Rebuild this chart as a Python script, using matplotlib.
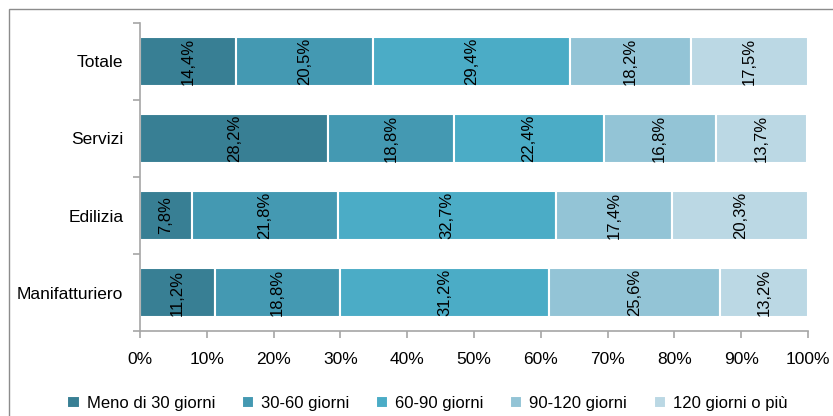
import matplotlib
matplotlib.use("Agg")
import matplotlib.pyplot as plt
import numpy as np
from matplotlib.patches import Rectangle

# share of companies by payment delay, per sector
sectors = ["Totale", "Servizi", "Edilizia", "Manifatturiero"]
classes = ["Meno di 30 giorni", "30-60 giorni", "60-90 giorni",
           "90-120 giorni", "120 giorni o più"]
meno_30 = [14.4, 28.2, 7.8, 11.2]
da_30_60 = [20.5, 18.8, 21.8, 18.8]
da_60_90 = [29.4, 22.4, 32.7, 31.2]
da_90_120 = [18.2, 16.8, 17.4, 25.6]
oltre_120 = [17.5, 13.7, 20.3, 13.2]
xticks = [0, 10, 20, 30, 40, 50, 60, 70, 80, 90, 100]

colors = ["#387f94", "#4499b2", "#4bacc6", "#93c4d6", "#bbd8e4"]
axis_grey = "#a6a6a6"

plt.rcParams["font.family"] = ["Liberation Sans", "DejaVu Sans"]

fig = plt.figure(figsize=(8.33, 4.16), dpi=100)
ax = fig.add_axes([0.168, 0.204, 0.802, 0.741])

# outer frame (left and top edges visible)
fig.patches.append(Rectangle((0.011, -0.1), 1.2, 0.1 + 0.978, transform=fig.transFigure,
                             fill=False, edgecolor="#8c8c8c", linewidth=1.0))

series = [meno_30, da_30_60, da_60_90, da_90_120, oltre_120]
ypos = np.arange(len(sectors))[::-1]
left = np.zeros(len(sectors))
for name, vals, col in zip(classes, series, colors):
    vals = np.array(vals)
    ax.barh(ypos, vals, left=left, height=0.63, color=col,
            edgecolor="white", linewidth=1.5, label=name)
    for y, l, v in zip(ypos, left, vals):
        ax.text(l + v / 2, y, f"{v:.1f}".replace(".", ",") + "%",
                rotation=90, ha="center", va="center", fontsize=12, color="black")
    left += vals

ax.set_xlim(0, 100)
ax.set_ylim(-0.5, len(sectors) - 0.5)
ax.set_xticks(xticks)
ax.set_xticklabels([f"{t}%" for t in xticks])
ax.set_yticks(ypos)
ax.set_yticklabels(sectors)
ax.set_yticks(np.arange(-0.5, len(sectors), 1), minor=True)

for s in ["top", "right"]:
    ax.spines[s].set_visible(False)
for s in ["left", "bottom"]:
    ax.spines[s].set_color(axis_grey)
    ax.spines[s].set_linewidth(1.2)

ax.tick_params(axis="x", length=5, width=1.2, color=axis_grey, pad=10, labelsize=12.5)
ax.tick_params(axis="y", which="major", length=0, pad=12, labelsize=12.5)
ax.tick_params(axis="y", which="minor", length=5, width=1.2, color=axis_grey)

leg = fig.legend(loc="center", bbox_to_anchor=(0.513, 0.031), ncol=5, frameon=False,
                 fontsize=12, handlelength=0.75, handleheight=0.75, handletextpad=0.4,
                 columnspacing=1.6)

fig.savefig("out.png", dpi=100)
